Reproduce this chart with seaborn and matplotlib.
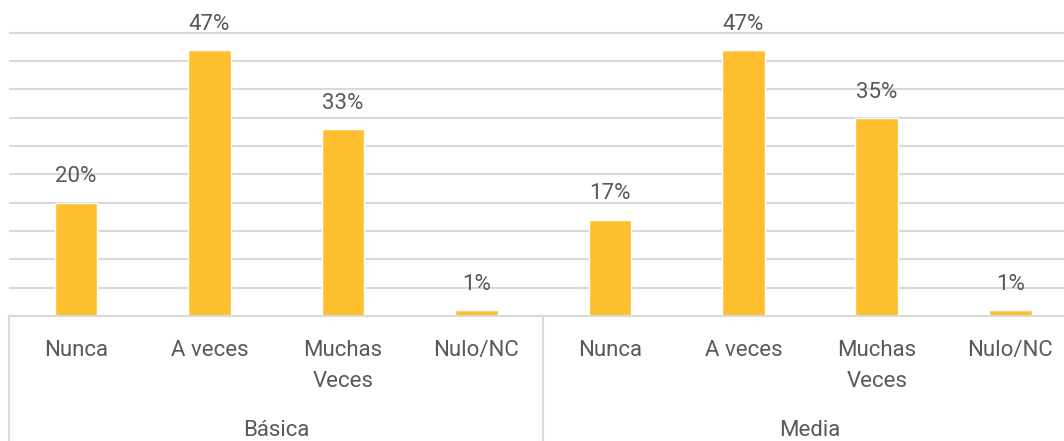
import pandas as pd
import matplotlib
matplotlib.use('Agg')
import matplotlib.pyplot as plt
import matplotlib.transforms as mtransforms
import seaborn as sns

# Datos
grupos = ['Básica', 'Media']
categorias = ['Nunca', 'A veces', 'Muchas\nVeces', 'Nulo/NC']
valores_basica = [20, 47, 33, 1]
valores_media = [17, 47, 35, 1]

filas = []
for g, vals in zip(grupos, [valores_basica, valores_media]):
    for c, v in zip(categorias, vals):
        filas.append({'grupo': g, 'categoria': c, 'clave': g + '|' + c, 'valor': v})
df = pd.DataFrame(filas)

sns.set_style('white')
plt.rcParams['font.family'] = ['Roboto', 'DejaVu Sans']

gris_texto = '#595959'
gris_linea = '#d9d9d9'
amarillo = '#FEC02F'
tam = 16

fig = plt.figure(figsize=(10.64, 4.41), dpi=100)
# area del grafico (recortada a la derecha como en la referencia)
ax = fig.add_axes([9.3 / 1064, 125 / 441, (1077 - 9.3) / 1064, 316 / 441])

sns.barplot(data=df, x='clave', y='valor', order=list(df['clave']),
            color=amarillo, saturation=1, width=0.32, ax=ax)

ax.set_ylim(0, 55.8)
ax.set_xlim(-0.5, len(df) - 0.5)
ax.set_yticks(range(5, 55, 5))
ax.yaxis.grid(True, color=gris_linea, linewidth=1.5)
ax.set_axisbelow(True)
ax.tick_params(axis='y', left=False, labelleft=False)
ax.tick_params(axis='x', bottom=False, labelbottom=False)
ax.set_xlabel('')
ax.set_ylabel('')
for s in ['top', 'right', 'left']:
    ax.spines[s].set_visible(False)
ax.spines['bottom'].set_color(gris_linea)
ax.spines['bottom'].set_linewidth(1.5)

# etiquetas de valor
for cont in ax.containers:
    ax.bar_label(cont, labels=[f'{v:.0f}%' for v in cont.datavalues],
                 padding=11, fontsize=tam, color=gris_texto)

# etiquetas de categoria y grupo
trans = mtransforms.blended_transform_factory(ax.transData, fig.transFigure)
for i, c in enumerate(df['categoria']):
    ax.text(i, 1 - 340 / 441, c, transform=trans, ha='center', va='top',
            fontsize=tam, color=gris_texto, linespacing=1.65)
for j, g in enumerate(grupos):
    ax.text(j * 4 + 1.5, 1 - 431 / 441, g, transform=trans, ha='center',
            va='center', fontsize=tam, color=gris_texto)

# separadores verticales
for xb in [-0.5, 3.5, 7.5]:
    ax.plot([xb, xb], [0, 125 / 441], transform=trans, color=gris_linea,
            linewidth=1.5, clip_on=False)

fig.savefig('out.png', dpi=100)
